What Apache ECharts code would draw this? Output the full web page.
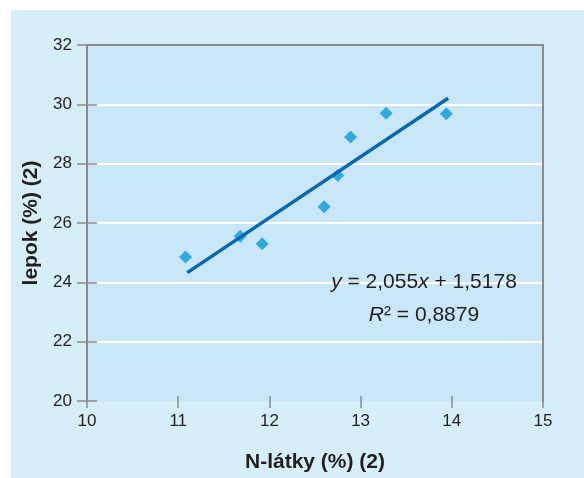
<!DOCTYPE html>
<html>
<head>
<meta charset="utf-8">
<script src="https://cdn.jsdelivr.net/npm/echarts@6/dist/echarts.min.js"></script>
<style>
  html, body { margin: 0; padding: 0; background: #ffffff; }
  #chart { position: absolute; left: 11px; top: 10px; width: 573px; height: 468px; background: #d5eef8; }
</style>
</head>
<body>
<div id="chart"></div>
<script>
// ---- data ----
const xValues = [11.08, 11.68, 11.92, 12.60, 12.75, 12.89, 13.28, 13.94];
const yValues = [24.85, 25.55, 25.30, 26.55, 27.60, 28.90, 29.70, 29.68];
const trendSlope = 2.055;
const trendIntercept = 1.5178;
const trendXRange = [11.10, 13.96];
const xTitle = 'N-látky (%) (2)';
const yTitle = 'lepok (%) (2)';
const eqText = '{i|y} = 2,055{i|x} + 1,5178';
const r2Text = '{i|R}² = 0,8879';
const xMin = 10, xMax = 15, xStep = 1;
const yMin = 20, yMax = 32, yStep = 2;

const FONT = "'Liberation Sans', Arial, Helvetica, sans-serif";
const TXT = '#231f20';
const AX = '#8a8a8a';

const scatterData = xValues.map((x, i) => [x, yValues[i]]);
const trendData = trendXRange.map(x => [x, trendSlope * x + trendIntercept]);

const chart = echarts.init(document.getElementById('chart'), null, { renderer: 'canvas' });

const baseX = { type: 'value', min: xMin, max: xMax, interval: xStep, splitLine: { show: false } };
const baseY = { type: 'value', min: yMin, max: yMax, interval: yStep, splitLine: { show: false } };

chart.setOption({
  animation: false,
  grid: { left: 76, right: 41, top: 35, bottom: 77, show: true, backgroundColor: '#c9e7f8', borderWidth: 0 },
  xAxis: [
    Object.assign({}, baseX, {
      position: 'bottom',
      axisLine: { show: false, onZero: false },
      axisTick: { show: true, length: 7, lineStyle: { color: AX, width: 1.5 } },
      axisLabel: { fontSize: 17, color: TXT, fontFamily: FONT, margin: 12 },
      name: xTitle, nameLocation: 'middle', nameGap: 51,
      nameTextStyle: { fontSize: 21, fontWeight: 'bold', color: TXT, fontFamily: FONT }
    }),
    Object.assign({}, baseX, {
      position: 'bottom',
      axisLine: { show: false, onZero: false },
      axisTick: { show: true, inside: true, length: 5, lineStyle: { color: AX, width: 1.5 } },
      axisLabel: { show: false }
    }),
    Object.assign({}, baseX, {
      position: 'top',
      axisLine: { show: true, onZero: false, lineStyle: { color: AX, width: 2 } },
      axisTick: { show: false },
      axisLabel: { show: false }
    })
  ],
  yAxis: [
    Object.assign({}, baseY, {
      position: 'left',
      axisLine: { show: true, onZero: false, lineStyle: { color: AX, width: 2 } },
      axisTick: { show: true, length: 10, lineStyle: { color: AX, width: 1.5 } },
      axisLabel: { fontSize: 17, color: TXT, fontFamily: FONT, margin: 15 },
      splitLine: { show: true, showMinLine: false, showMaxLine: false, lineStyle: { color: '#ffffff', width: 2 } },
      name: yTitle, nameLocation: 'middle', nameGap: 42,
      nameTextStyle: { fontSize: 21, fontWeight: 'bold', color: TXT, fontFamily: FONT }
    }),
    Object.assign({}, baseY, {
      position: 'left',
      axisLine: { show: false, onZero: false },
      axisTick: { show: true, inside: true, length: 10, lineStyle: { color: AX, width: 1.5 } },
      axisLabel: { show: false }
    }),
    Object.assign({}, baseY, {
      position: 'right',
      axisLine: { show: true, onZero: false, lineStyle: { color: AX, width: 2 } },
      axisTick: { show: false },
      axisLabel: { show: false }
    })
  ],
  series: [
    {
      type: 'scatter', xAxisIndex: 0, yAxisIndex: 0,
      data: scatterData,
      symbol: 'diamond', symbolSize: 13,
      itemStyle: { color: '#0a9ad9' },
      z: 2
    },
    {
      type: 'line', xAxisIndex: 0, yAxisIndex: 0,
      data: trendData,
      showSymbol: false, symbol: 'none',
      lineStyle: { color: '#0a67b1', width: 3.5 },
      z: 3
    }
  ],
  graphic: [
    {
      type: 'text', x: 413, y: 272, z: 10,
      style: {
        text: eqText, fill: TXT, font: "21px " + FONT,
        align: 'center', verticalAlign: 'middle', textAlign: 'center', textVerticalAlign: 'middle',
        rich: { i: { fontStyle: 'italic', fontSize: 21, fontFamily: FONT, fill: TXT, color: TXT } }
      }
    },
    {
      type: 'text', x: 413, y: 305, z: 10,
      style: {
        text: r2Text, fill: TXT, font: "21px " + FONT,
        align: 'center', verticalAlign: 'middle', textAlign: 'center', textVerticalAlign: 'middle',
        rich: { i: { fontStyle: 'italic', fontSize: 21, fontFamily: FONT, fill: TXT, color: TXT } }
      }
    }
  ]
});
</script>
</body>
</html>
